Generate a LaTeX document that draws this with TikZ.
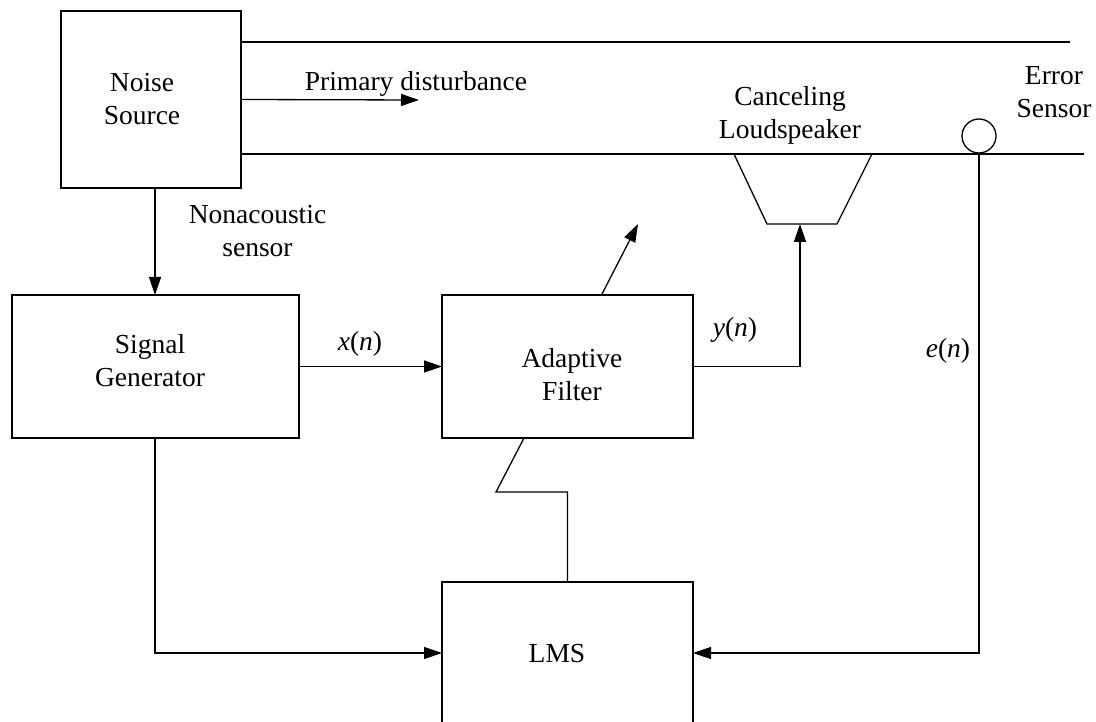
\documentclass[tikz,border=0pt]{standalone}
\usepackage{fontspec}
\setmainfont{Liberation Serif}
\usetikzlibrary{arrows.meta,calc}
\begin{document}
\begin{tikzpicture}[x=1pt,y=-1pt,
  wire/.style={line width=1.3pt},
  arr/.style={wire,-{Triangle[length=18pt,width=12pt]}},
  blk/.style={draw,line width=1.3pt,rectangle,inner sep=0pt,outer sep=0pt},
  txt/.style={font=\fontsize{27.5}{33}\selectfont,align=center,inner sep=0pt},
  mtxt/.style={txt,font=\fontsize{27.5}{33}\selectfont\itshape}]
\useasboundingbox (0,0) rectangle (1096,722);
\clip (0,0) rectangle (1096,722);

% blocks
\node[blk,minimum width=180pt,minimum height=177pt] (noise) at (151,99.5) {};
\node[blk,minimum width=287pt,minimum height=143pt] (siggen) at (155.5,366.5) {};
\node[blk,minimum width=251pt,minimum height=143pt] (af) at (567.5,366.5) {};
\node[blk,minimum width=251pt,minimum height=180pt] (lms) at (567.5,672) {};
\node[draw,circle,line width=1.3pt,minimum size=34pt,inner sep=0pt,outer sep=0pt] (esensor) at (979,136) {};

% block texts
\node[txt] (noiset) at (142,99.2) {Noise\\Source};
\node[txt] (sigt) at (150,360.2) {Signal\\Generator};
\node[txt] (aft) at (572,375) {Adaptive\\Filter};
\node[txt,anchor=base] (lmst) at (557,662.7) {LMS};

% free labels
\node[txt,anchor=base] (pdt) at (416,91) {Primary disturbance};
\node[txt] (nst) at (257.5,230.7) {Nonacoustic\\sensor};
\node[txt] (clt) at (790,115.6) {Canceling\\Loudspeaker};
\node[txt] (est) at (1054,92) {Error\\Sensor};
\node[txt,anchor=base] (xt) at (360,350) {\textit{x}(\textit{n})};
\node[txt,anchor=base] (yt) at (735,336.7) {\textit{y}(\textit{n})};
\node[txt,anchor=base] (et) at (948,358) {\textit{e}(\textit{n})};

% helper coordinates
\coordinate (ducttop) at (1070,42);
\coordinate (ductbot) at (1084,154);
\coordinate (pdtip) at (419,100);
\coordinate (nsx) at (155,0);
\coordinate (spkb) at (800,224);
\coordinate (adbase) at (601.5,0);
\coordinate (adtip) at (638,224);
\coordinate (zzx) at (524,0);
\coordinate (zz1) at (496,492);
\coordinate (lmsrow) at (0,653);

% duct walls and loudspeaker
\draw[wire] (noise.east |- ducttop) -- (ducttop);
\draw[wire] (noise.east |- ductbot) -- (ductbot);
\draw[wire] (734,154) -- (767,224) -- (837,224) -- (872,154);

% signal paths
\draw[arr] (noise.east) -- (pdtip);
\draw[arr] (noise.south -| nsx) -- (siggen.north -| nsx);
\draw[arr] (siggen.east) -- (af.west);
\draw[arr] (af.east) -- (af.east -| spkb) -- (spkb);
\draw[arr] (af.north -| adbase) -- (adtip);
\draw[wire] (af.south -| zzx) -- (zz1) -- (zz1 -| lms.north) -- (lms.north);
\draw[arr] (siggen.south -| nsx) -- (lmsrow -| nsx) -- (lmsrow -| lms.west);
\draw[arr] (esensor.south) -- (esensor.south |- lmsrow) -- (lmsrow -| lms.east);
\end{tikzpicture}
\end{document}
